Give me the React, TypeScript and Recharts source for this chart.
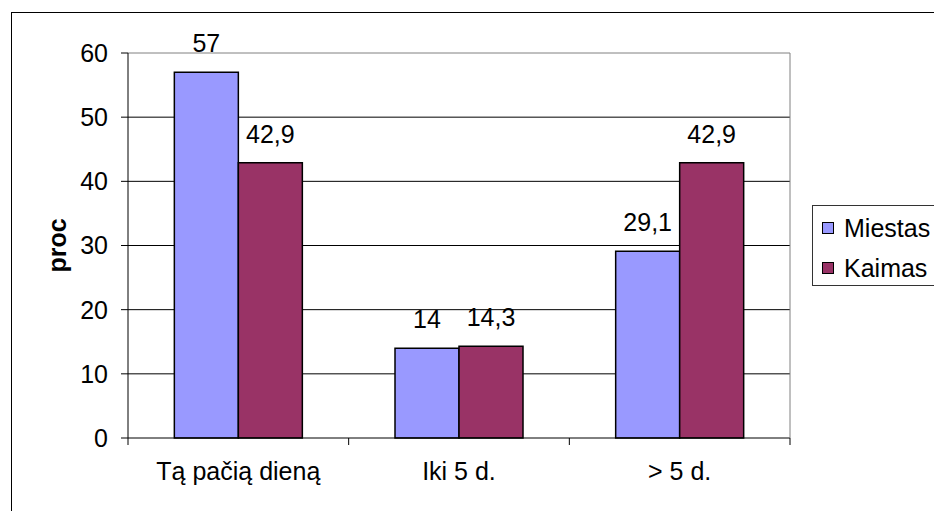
import { BarChart, Bar, XAxis, YAxis, CartesianGrid, ReferenceLine, LabelList } from "recharts";

const categories = ["Tą pačią dieną", "Iki 5 d.", "> 5 d."];
const miestas = [57, 14, 29.1];
const kaimas = [42.9, 14.3, 42.9];
const yTicks = [0, 10, 20, 30, 40, 50, 60];
const gridValues = [10, 20, 30, 40, 50];

const series = [
  { key: "miestas", name: "Miestas", color: "#9999FF" },
  { key: "kaimas", name: "Kaimas", color: "#993366" },
];

const data = categories.map((c, i) => ({ name: c, miestas: miestas[i], kaimas: kaimas[i] }));

const FONT = "'Liberation Sans', Arial, sans-serif";
const FS = 25;
const W = 934;
const H = 511;
const MARGIN = { top: 53, right: 143, bottom: 0, left: 0 };
const Y_AXIS_W = 128;
const X_AXIS_H = 73;
const plotW = W - MARGIN.left - MARGIN.right - Y_AXIS_W - 1;
const band = plotW / categories.length;

const fmt = (v: any) => String(v).replace(".", ",");

// category label plus tick marks on the band edges
function CategoryTick(props: any) {
  const { x, y, payload, index } = props;
  const left = x - band / 2;
  const right = x + band / 2;
  return (
    <g>
      <line x1={left} x2={left} y1={y} y2={y + 7} stroke="#000" />
      {index === categories.length - 1 && <line x1={right} x2={right} y1={y} y2={y + 7} stroke="#000" />}
      <text x={x} y={y + 42} textAnchor="middle" fontSize={FS} fontFamily={FONT} fill="#000">
        {payload.value}
      </text>
    </g>
  );
}

function ProcLabel(props: any) {
  const vb = props.viewBox || {};
  const cy = vb.y + vb.height / 2;
  return (
    <text
      x={57}
      y={cy}
      transform={`rotate(-90 57 ${cy})`}
      textAnchor="middle"
      dominantBaseline="central"
      fontSize={FS}
      fontWeight="bold"
      fontFamily={FONT}
      fill="#000"
    >
      proc
    </text>
  );
}

export default function App() {
  return (
    <div style={{ position: "absolute", left: 0, top: 0, width: W, height: H, overflow: "hidden", background: "#fff", fontFamily: FONT }}>
      <div style={{ position: "absolute", left: 11, top: 12, width: 960, height: 540, border: "1px solid #000" }} />
      <div style={{ position: "absolute", left: 0, top: 0 }}>
        <BarChart
          width={W}
          height={H}
          data={data}
          margin={MARGIN}
          barCategoryGap="21%"
          barGap={0}
        >
          <CartesianGrid vertical={false} stroke="#000" strokeWidth={1} horizontalValues={gridValues} />
          <ReferenceLine y={60} stroke="#808080" />
          <XAxis
            dataKey="name"
            height={X_AXIS_H}
            axisLine={{ stroke: "#000" }}
            tickLine={false}
            tickSize={0}
            tickMargin={0}
            tick={<CategoryTick />}
            interval={0}
          />
          <YAxis
            width={Y_AXIS_W}
            domain={[0, 60]}
            ticks={yTicks}
            interval={0}
            axisLine={{ stroke: "#000" }}
            tickLine={{ stroke: "#000" }}
            tickSize={7}
            tickMargin={13}
            tick={{ fill: "#000", fontSize: FS, fontFamily: FONT }}
            label={<ProcLabel />}
          />
          <YAxis
            yAxisId="right"
            orientation="right"
            width={1}
            domain={[0, 60]}
            tick={false}
            tickLine={false}
            axisLine={{ stroke: "#808080" }}
          />
          {series.map((s) => (
            <Bar
              key={s.key}
              dataKey={s.key}
              name={s.name}
              fill={s.color}
              stroke="#000"
              strokeWidth={1.5}
              isAnimationActive={false}
            >
              <LabelList
                dataKey={s.key}
                position="top"
                offset={20}
                formatter={fmt}
                fill="#000"
                fontSize={FS}
                fontFamily={FONT}
              />
            </Bar>
          ))}
        </BarChart>
      </div>
      <div
        style={{
          position: "absolute",
          left: 812,
          top: 205,
          width: 140,
          height: 81,
          border: "1px solid #333",
          boxSizing: "border-box",
        }}
      >
        {series.map((s, i) => (
          <div
            key={s.key}
            style={{ position: "absolute", left: 0, top: 8 + i * 40, height: 28, display: "flex", alignItems: "center" }}
          >
            <span
              style={{
                display: "inline-block",
                width: 10,
                height: 10,
                marginLeft: 9,
                background: s.color,
                border: "1px solid #000",
              }}
            />
            <span style={{ marginLeft: 10, fontSize: FS, color: "#000", lineHeight: "28px" }}>{s.name}</span>
          </div>
        ))}
      </div>
    </div>
  );
}
